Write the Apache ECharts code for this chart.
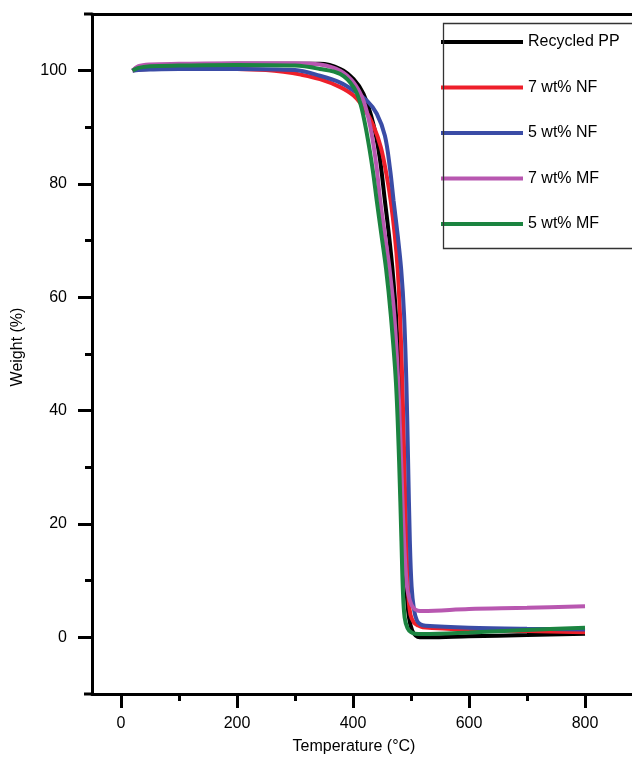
<!DOCTYPE html>
<html>
<head>
<meta charset="utf-8">
<script src="https://cdn.jsdelivr.net/npm/echarts@6/dist/echarts.min.js"></script>
<style>html,body{margin:0;padding:0;background:#fff}#c{width:632px;height:758px}</style>
</head>
<body>
<div id="c"></div>
<script>
// Series names
const seriesNames = ['Recycled PP', '7 wt% NF', '5 wt% NF', '7 wt% MF', '5 wt% MF'];
// Tick values
const xMajorTicks = [0, 200, 400, 600, 800];
const xMinorTicks = [100, 300, 500, 700];
const yMajorTicks = [0, 20, 40, 60, 80, 100];
const yMinorTicks = [10, 30, 50, 70, 90];

// Recycled PP
const tRecycled = [20,30,50,100,200,300,343,378,401,418,435,446,455,462,468,474,480,484.5,489,492.5,496.5,502,508,515,530,600,700,800];
const wRecycled = [100.0,100.6,100.9,101.0,101.2,101.2,101.2,100.3,98.5,95.9,90.6,84.7,77,71,65,57,45,31,17,8,3.5,1.2,0.3,0.0,0.0,0.2,0.4,0.65];
// 7 wt% NF
const tNF7 = [20,30,50,100,200,250,280,310,343,378,401,420,435,448,458,465,472,477,481,485,488.5,492,495,499,505,512,520,600,700,800];
const wNF7 = [100.0,100.2,100.3,100.4,100.3,100.1,99.8,99.3,98.5,97.1,95.6,93.2,90.3,86.5,81.5,77,71,65,57,45,31,17,8,4,2.6,2.1,1.8,1.35,1.1,0.9];
// 5 wt% NF
const tNF5 = [20,30,50,100,200,300,343,378,401,424,441,455,464,470,477,483,488,492,495,498,501,505,510,516,525,600,700,800];
const wNF5 = [100.0,100.1,100.2,100.3,100.3,100.1,99.1,97.9,96.5,94.7,92.4,88.5,82.5,77,71,65,57,45,31,17,9,5,3,2.3,2.05,1.7,1.5,1.4];
// 7 wt% MF
const tMF7 = [20,30,50,100,200,300,343,378,401,418,430,440,447,455,463,471,478,483,488,493,498,504,512,520,600,700,800];
const wMF7 = [100.0,100.8,101.1,101.2,101.3,101.3,101.1,100.0,97.9,94.7,90.0,83.5,77,71,65,57,45,31,17,9,6.5,5.2,4.7,4.65,5.0,5.2,5.5];
// 5 wt% MF
const tMF5 = [20,30,50,100,200,300,343,378,401,413,424,434,441,449,457,465,474,479.5,483.5,486,489,494,500,507,520,600,700,800];
const wMF5 = [100.0,100.5,100.8,100.9,101.0,100.9,100.3,99.4,97.1,94.1,88.8,82.5,77,71,65,57,45,31,17,8.3,3.5,1.6,0.9,0.65,0.6,0.85,1.3,1.7];

const seriesT = [tRecycled, tNF7, tNF5, tMF7, tMF5];
const seriesW = [wRecycled, wNF7, wNF5, wMF7, wMF5];
const colors = ['#000000', '#ee1f2a', '#3a4ca6', '#b857b0', '#1b8440'];

const FONT = 'Liberation Sans, Arial, Helvetica, sans-serif';
const chart = echarts.init(document.getElementById('c'), null, {renderer: 'canvas'});

const axisLineStyle = {color: '#000', width: 3};
const labelStyle = {color: '#000', fontSize: 16, fontFamily: FONT};

const option = {
  animation: false,
  backgroundColor: '#fff',
  grid: {left: 92, right: 0, top: 14, bottom: 64, containLabel: false},
  xAxis: [
    {
      type: 'value', min: -50, max: 881, position: 'bottom',
      axisLine: {show: true, onZero: false, lineStyle: axisLineStyle},
      axisTick: {show: true, customValues: xMajorTicks, length: 14, lineStyle: {color: '#000', width: 3}},
      axisLabel: {show: true, customValues: xMajorTicks, margin: 22, ...labelStyle},
      splitLine: {show: false}
    },
    {
      type: 'value', min: -50, max: 881, position: 'bottom',
      axisLine: {show: false, onZero: false},
      axisTick: {show: true, customValues: xMinorTicks, length: 7, lineStyle: {color: '#000', width: 3}},
      axisLabel: {show: false},
      splitLine: {show: false}
    },
    {
      type: 'value', min: -50, max: 881, position: 'top',
      axisLine: {show: true, onZero: false, lineStyle: axisLineStyle},
      axisTick: {show: false}, axisLabel: {show: false}, splitLine: {show: false}
    }
  ],
  yAxis: [
    {
      type: 'value', min: -10, max: 110, position: 'left',
      axisLine: {show: true, onZero: false, lineStyle: axisLineStyle},
      axisTick: {show: true, customValues: yMajorTicks, length: 14, lineStyle: {color: '#000', width: 3}},
      axisLabel: {show: true, customValues: yMajorTicks, margin: 25, ...labelStyle},
      splitLine: {show: false}
    },
    {
      type: 'value', min: -10, max: 110, position: 'left',
      axisLine: {show: false, onZero: false},
      axisTick: {show: true, customValues: yMinorTicks, length: 7, lineStyle: {color: '#000', width: 3}},
      axisLabel: {show: false},
      splitLine: {show: false}
    }
  ],
  legend: {
    orient: 'vertical', left: 441, top: 32, padding: 0,
    itemWidth: 82, itemHeight: 4, itemGap: 25.5, icon: 'rect',
    textStyle: {color: '#000', fontSize: 16, fontFamily: FONT, lineHeight: 20},
    data: seriesNames
  },
  graphic: [
    {type: 'rect', left: 441, top: 21, shape: {x: 0, y: 0, width: 260, height: 225},
     style: {fill: 'none', stroke: '#333', lineWidth: 1.3}, z: 100},
    {type: 'line', shape: {x1: 84, y1: 694, x2: 92, y2: 694}, style: {stroke: '#000', lineWidth: 3}},
    {type: 'line', shape: {x1: 84, y1: 14, x2: 92, y2: 14}, style: {stroke: '#000', lineWidth: 3}},
    {type: 'text', x: 354, y: 747, style: {text: 'Temperature (°C)', fill: '#000', font: '16px ' + FONT, textAlign: 'center', textVerticalAlign: 'middle'}},
    {type: 'text', x: 18, y: 347, rotation: Math.PI / 2, style: {text: 'Weight (%)', fill: '#000', font: '16px ' + FONT, textAlign: 'center', textVerticalAlign: 'middle'}}
  ],
  series: seriesNames.map((name, i) => ({
    name: name,
    type: 'line',
    xAxisIndex: 0, yAxisIndex: 0,
    data: seriesT[i].map((t, k) => [t, seriesW[i][k]]),
    showSymbol: false, symbol: 'none',
    smooth: 0.35,
    color: colors[i],
    lineStyle: {color: colors[i], width: 4},
    z: 2 + i
  }))
};
chart.setOption(option);
</script>
</body>
</html>
